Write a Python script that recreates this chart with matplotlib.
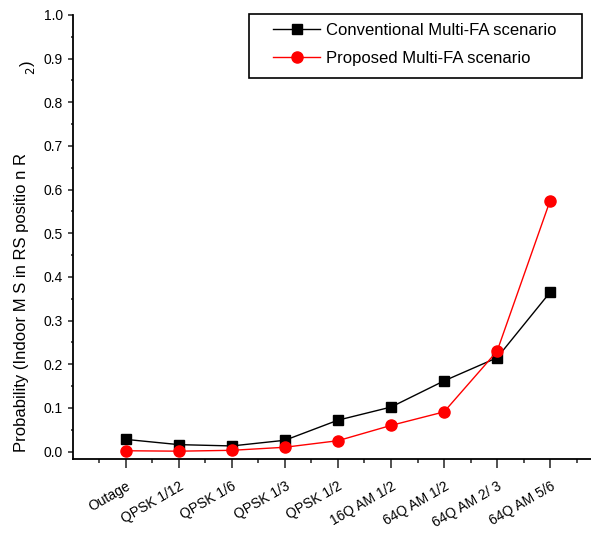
import matplotlib
matplotlib.use("Agg")
import matplotlib.pyplot as plt
from matplotlib.ticker import MultipleLocator, FixedLocator
from matplotlib.patches import Rectangle
import numpy as np

plt.rcParams['font.family'] = ['Liberation Sans Narrow', 'Liberation Sans', 'DejaVu Sans']

categories = ["Outage", "QPSK 1/12", "QPSK 1/6", "QPSK 1/3", "QPSK 1/2",
              "16Q AM 1/2", "64Q AM 1/2", "64Q AM 2/ 3", "64Q AM 5/6"]
conventional = [0.028, 0.016, 0.013, 0.026, 0.072, 0.102, 0.162, 0.215, 0.365]
proposed = [0.002, 0.001, 0.003, 0.010, 0.025, 0.060, 0.091, 0.230, 0.575]
y_ticks = [0.0, 0.1, 0.2, 0.3, 0.4, 0.5, 0.6, 0.7, 0.8, 0.9, 1.0]

W, H = 591, 533
fig = plt.figure(figsize=(W / 100, H / 100), dpi=100)
ax = fig.add_axes([0.123, 0.139, 0.877, 0.833])

x = np.arange(len(categories))
ax.plot(x, conventional, color='black', lw=1.0, marker='s', ms=7,
        mfc='black', mec='black', label='Conventional Multi-FA scenario')
ax.plot(x, proposed, color='red', lw=1.0, marker='o', ms=8,
        mfc='red', mec='red', label='Proposed Multi-FA scenario')

ax.set_xlim(-1, 8.77)
ax.set_ylim(-0.0167, 1.0)
ax.spines['top'].set_visible(False)
ax.spines['right'].set_visible(False)
for s in ('left', 'bottom'):
    ax.spines[s].set_linewidth(1.3)

ax.set_xticks(x)
ax.set_xticklabels(categories, rotation=30, ha='right', rotation_mode='anchor',
                   fontsize=10)
ax.xaxis.set_minor_locator(FixedLocator(np.arange(-0.5, 9.0, 1.0)))
ax.set_yticks(y_ticks)
ax.set_yticklabels([f"{v:.1f}" for v in y_ticks], fontsize=10)
ax.yaxis.set_minor_locator(MultipleLocator(0.05))
ax.tick_params(axis='x', which='major', direction='out', length=6.5, width=1.2,
               color='#333333', pad=8)
ax.tick_params(axis='x', which='minor', direction='out', length=3, width=1.2,
               color='#333333')
ax.tick_params(axis='y', which='major', direction='out', length=3.5, width=1.2,
               color='#333333', pad=3.5)
ax.tick_params(axis='y', which='minor', direction='out', length=1.5, width=1.2,
               color='#333333')

# Legend without its own frame; the box is drawn separately
leg = ax.legend(loc='upper right', fontsize=12, frameon=False,
                handlelength=2.8, handletextpad=0.4, borderpad=0.0,
                borderaxespad=0.0, labelspacing=0.75)
leg.set_bbox_to_anchor((557 / W, 1 - 23 / H), transform=fig.transFigure)
fig.patches.append(Rectangle((249 / W, 1 - 78 / H), (582 - 249) / W, 64 / H,
                             transform=fig.transFigure, fill=False,
                             edgecolor='black', lw=1.2))

fig.text(0.037, 0.152, "Probability (Indoor M S in RS positio n R",
         rotation=90, ha='center', va='bottom', fontsize=12)
fig.text(0.047, 0.86, "$_2$)", rotation=90, ha='center', va='bottom', fontsize=12)

fig.savefig("out.png", dpi=100)
